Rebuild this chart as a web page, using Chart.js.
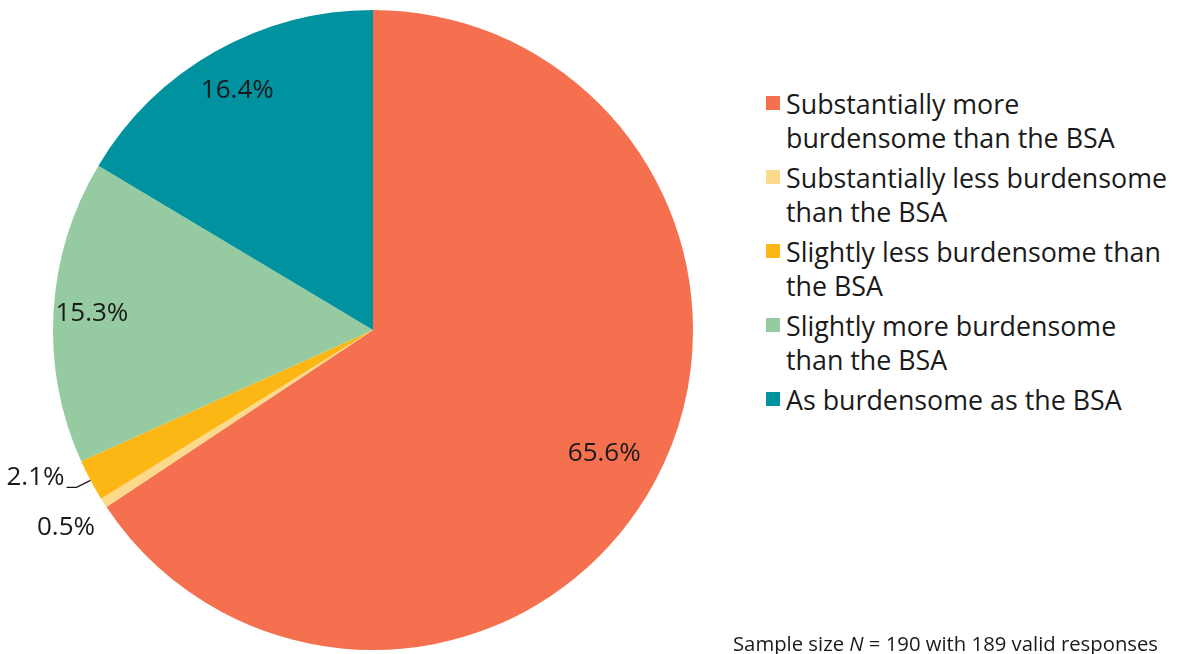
<!DOCTYPE html>
<html>
<head>
<meta charset="utf-8">
<script src="https://cdn.jsdelivr.net/npm/chart.js@4.4.0/dist/chart.umd.min.js"></script>
<style>
  body { margin: 0; background: #fff; font-family: 'Open Sans', sans-serif; color: #1a1a1a; }
  #wrap { position: relative; width: 1179px; height: 654px; overflow: hidden; }
  #pieBox { position: absolute; left: 0; top: 0; width: 746px; height: 654px; }
  #legend { position: absolute; left: 766px; top: 87px; }
  .item { position: relative; padding-left: 20px; font-size: 26.8px; line-height: 34px; margin-bottom: 6px; white-space: nowrap; }
  .swatch { position: absolute; left: 0; top: 9px; width: 14px; height: 14px; }
  #note { position: absolute; left: 733px; top: 629px; font-size: 20.3px; white-space: nowrap; }
</style>
</head>
<body>
<div id="wrap">
  <div id="pieBox"><canvas id="pie"></canvas></div>
  <div id="legend"></div>
  <div id="note">Sample size <i>N</i> = 190 with 189 valid responses</div>
</div>
<script>
// Catégories (ordre horaire depuis midi)
const categories = [
    ['Substantially more', 'burdensome than the BSA'],
    ['Substantially less burdensome', 'than the BSA'],
    ['Slightly less burdensome than', 'the BSA'],
    ['Slightly more burdensome', 'than the BSA'],
    ['As burdensome as the BSA']
];
const shares = [65.6, 0.5, 2.1, 15.3, 16.4];
const colors = ['#F4704F', '#FDD98C', '#FDB714', '#96CBA1', '#00929E'];

// Étiquettes : rayon relatif (>1 = dehors)
const labelRadius = [0.82, 1.14, 1.25, 0.88, 0.86];

// Légende HTML (texte sur plusieurs lignes)
const legendEl = document.getElementById('legend');
categories.forEach((lines, i) => {
    const d = document.createElement('div');
    d.className = 'item';
    d.innerHTML = '<span class="swatch" style="background:' + colors[i] + '"></span>' + lines.join('<br>');
    legendEl.appendChild(d);
});

const pieLabels = {
    id: 'pieLabels',
    afterDatasetsDraw(chart) {
        const ctx = chart.ctx;
        const meta = chart.getDatasetMeta(0);
        ctx.save();
        ctx.font = "26px 'Open Sans', sans-serif";
        ctx.fillStyle = '#1a1a1a';
        ctx.textAlign = 'center';
        ctx.textBaseline = 'middle';
        meta.data.forEach((arc, i) => {
            const mid = (arc.startAngle + arc.endAngle) / 2;
            const r = arc.outerRadius * labelRadius[i];
            let x = arc.x + Math.cos(mid) * r;
            let y = arc.y + Math.sin(mid) * r;
            const txt = shares[i].toFixed(1) + '%';
            if (i === 2) {
                // trait de rappel
                const ex = arc.x + Math.cos(mid) * arc.outerRadius;
                const ey = arc.y + Math.sin(mid) * arc.outerRadius;
                ctx.beginPath();
                ctx.strokeStyle = '#1a1a1a';
                ctx.lineWidth = 1.3;
                ctx.moveTo(ex, ey);
                ctx.lineTo(ex - 14, ey + 7);
                ctx.lineTo(ex - 24, ey + 7);
                ctx.stroke();
                x = ex - 55;
                y = ey - 3;
            }
            ctx.fillText(txt, x, y);
        });
        ctx.restore();
    }
};

new Chart(document.getElementById('pie'), {
    type: 'pie',
    data: {
        labels: categories,
        datasets: [{
            data: shares,
            backgroundColor: colors,
            borderWidth: 0
        }]
    },
    options: {
        responsive: true,
        maintainAspectRatio: false,
        animation: false,
        layout: { padding: { top: 10, bottom: 4 } },
        plugins: {
            legend: { display: false },
            tooltip: { enabled: false }
        }
    },
    plugins: [pieLabels]
});
</script>
</body>
</html>
